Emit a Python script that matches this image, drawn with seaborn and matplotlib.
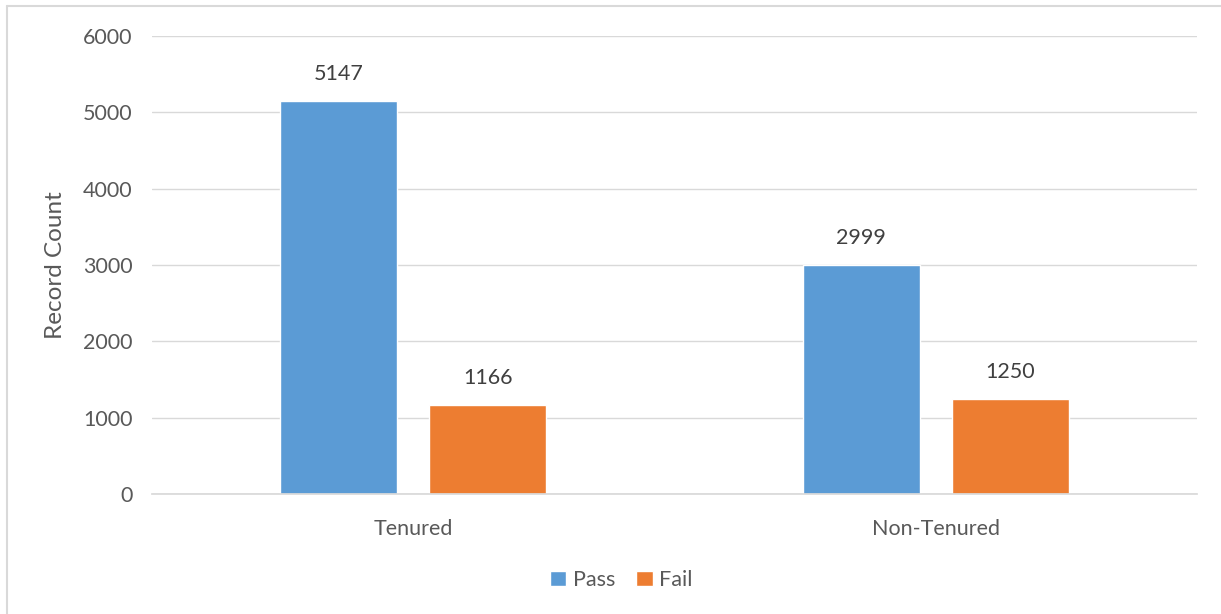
"""Pass/fail record counts by tenure status, Excel-style clustered bars."""
import matplotlib
matplotlib.use("Agg")
import matplotlib.pyplot as plt
import pandas as pd
import seaborn as sns

groups = ["Tenured", "Non-Tenured"]
outcomes = ["Pass", "Fail"]
pass_counts = [5147, 2999]
fail_counts = [1166, 1250]
y_ticks = [0, 1000, 2000, 3000, 4000, 5000, 6000]

df = pd.DataFrame({
    "group": groups * 2,
    "outcome": ["Pass"] * len(groups) + ["Fail"] * len(groups),
    "count": pass_counts + fail_counts,
})

sns.set_theme(style="white")
plt.rcParams["font.family"] = ["Lato", "DejaVu Sans"]
text_color = "#595959"
palette = {"Pass": "#5B9BD5", "Fail": "#ED7D31"}
fs = 15.5

fig = plt.figure(figsize=(12.21, 6.14), dpi=100)
ax = fig.add_axes([0.1245, 0.1954, 0.8558, 0.746])

sns.barplot(
    data=df, x="group", y="count", hue="outcome", order=groups,
    hue_order=outcomes, palette=palette, width=0.57, gap=0.214,
    saturation=1, ax=ax,
)

for container in ax.containers:
    ax.bar_label(container, padding=12, fontsize=fs, color="#404040")

ax.set_ylim(0, 6000)
ax.set_yticks(y_ticks)
ax.set_xlim(-0.5, 1.5)
ax.yaxis.grid(True, color="#D9D9D9", linewidth=1)
ax.set_axisbelow(True)
for side in ["top", "right", "left"]:
    ax.spines[side].set_visible(False)
ax.spines["bottom"].set_color("#D9D9D9")
ax.tick_params(axis="y", length=0, labelsize=fs, colors=text_color, pad=14)
ax.tick_params(axis="x", length=0, labelsize=fs, colors=text_color, pad=18)
ax.set_xlabel("")
ax.set_ylabel("Record Count", fontsize=17.5, color=text_color, labelpad=12)

ax.legend(
    loc="lower center", bbox_to_anchor=(0.449, -0.252), ncol=2, frameon=False,
    fontsize=fs, handlelength=0.75, handleheight=0.75, handletextpad=0.3,
    columnspacing=1.0, labelcolor=text_color,
)

# chart-area border (left and top visible in the reference)
fig.add_artist(plt.Line2D([0.006, 0.006], [0, 0.99], color="#D9D9D9", lw=1.5))
fig.add_artist(plt.Line2D([0.006, 1.0], [0.99, 0.99], color="#D9D9D9", lw=1.5))

fig.savefig("out.png", dpi=100)
plt.close(fig)
